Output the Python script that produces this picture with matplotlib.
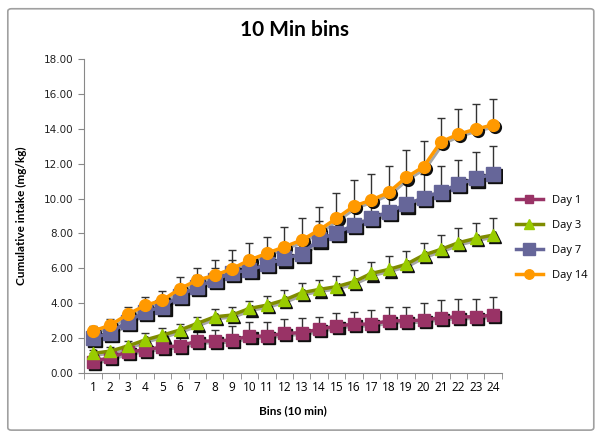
import matplotlib
matplotlib.use("Agg")
import matplotlib.pyplot as plt
import matplotlib.transforms as mtransforms
from matplotlib.patches import FancyBboxPatch

# bins 1..24 (10 min each)
bins = list(range(1, 25))

day1 = [0.63, 0.88, 1.20, 1.30, 1.49, 1.53, 1.82, 1.82, 1.88, 2.10, 2.10, 2.26,
        2.30, 2.49, 2.68, 2.79, 2.79, 2.98, 2.98, 3.02, 3.16, 3.21, 3.21, 3.31]
day1_err = [0.30, 0.35, 0.40, 0.45, 0.50, 0.50, 0.55, 0.65, 0.80, 0.83, 0.83, 0.80,
            0.82, 0.72, 0.73, 0.71, 0.81, 0.81, 0.81, 0.96, 1.01, 1.00, 1.00, 1.05]

day3 = [1.11, 1.24, 1.53, 1.88, 2.16, 2.45, 2.83, 3.21, 3.31, 3.69, 3.88, 4.17,
        4.59, 4.78, 4.94, 5.22, 5.70, 5.93, 6.22, 6.75, 7.08, 7.46, 7.71, 7.90]
day3_err = [0.20, 0.25, 0.30, 0.42, 0.40, 0.33, 0.38, 0.43, 0.48, 0.44, 0.50, 0.60,
            0.54, 0.54, 0.60, 0.67, 0.67, 0.77, 0.78, 0.70, 0.82, 0.86, 0.89, 0.96]

day7 = [1.97, 2.30, 2.93, 3.50, 3.79, 4.42, 4.94, 5.32, 5.74, 5.89, 6.22, 6.56,
        6.81, 7.65, 8.03, 8.47, 8.86, 9.24, 9.66, 10.04, 10.39, 10.81, 11.15, 11.40]
day7_err = [0.35, 0.40, 0.45, 0.50, 0.55, 0.60, 0.65, 0.70, 0.75, 0.80, 0.85, 0.90,
            1.00, 1.05, 1.10, 1.15, 1.20, 1.25, 1.30, 1.35, 1.47, 1.40, 1.53, 1.60]

day14 = [2.39, 2.73, 3.35, 3.86, 4.17, 4.82, 5.32, 5.59, 5.97, 6.47, 6.85, 7.23,
         7.61, 8.19, 8.86, 9.56, 9.91, 10.35, 11.21, 11.82, 13.25, 13.69, 13.98, 14.23]
day14_err = [0.30, 0.37, 0.40, 0.47, 0.53, 0.70, 0.70, 0.90, 1.07, 1.00, 0.95, 1.15,
             1.28, 1.34, 1.43, 1.50, 1.49, 1.50, 1.57, 1.50, 1.38, 1.44, 1.47, 1.51]

series = [
    ("Day 1", day1, day1_err, "s", 8, "#993366", "#993366"),
    ("Day 3", day3, day3_err, "^", 8.5, "#99CC00", "#7F8C00"),
    ("Day 7", day7, day7_err, "s", 10.5, "#666699", "#666699"),
    ("Day 14", day14, day14_err, "o", 8.5, "#FF9900", "#FF9900"),
]

fig = plt.figure(figsize=(6.01, 4.38), dpi=100)
ax = fig.add_axes([0.140, 0.149, 0.695, 0.716])

# chart border
fig.patches.append(FancyBboxPatch((0.013, 0.018), 0.975, 0.962,
                                  boxstyle="round,pad=0,rounding_size=0.006",
                                  transform=fig.transFigure, facecolor="none",
                                  edgecolor="#A0A0A0", linewidth=1.2))

shadow = mtransforms.offset_copy(ax.transData, fig=fig, x=1.5, y=-1.5, units="points")

for name, vals, err, mk, ms, fc, lc in series:
    ax.errorbar(bins, vals, yerr=[[0] * len(err), err], fmt="none",
                ecolor="#333333", elinewidth=1, capsize=3, zorder=2)
    ax.plot(bins, vals, color="black", linewidth=2, alpha=0.35,
            transform=shadow, zorder=3)
    ax.plot(bins, vals, color="black", marker=mk, markersize=ms, linestyle="none",
            alpha=0.9, transform=shadow, zorder=3)
    ax.plot(bins, vals, color=lc, marker=mk, markersize=ms, markerfacecolor=fc,
            markeredgecolor=fc, linewidth=2.5, label=name, zorder=4)

ax.set_xlim(0.5, 24.5)
ax.set_ylim(0, 18)
ax.set_yticks(range(0, 19, 2))
ax.set_yticklabels(["%.2f" % v for v in range(0, 19, 2)], fontsize=7.5,
                   family="DejaVu Sans", color="#222222")
ax.set_xticks(bins)
ax.set_xticklabels([str(b) for b in bins], fontsize=8.5, family="Open Sans")
ax.set_xticks([b + 0.5 for b in range(0, 25)], minor=True)
ax.tick_params(axis="x", which="major", length=0, pad=6)
ax.tick_params(axis="x", which="minor", length=4, color="#888888", direction="out")
ax.tick_params(axis="y", length=4, color="#888888", direction="out")

for s in ["top", "right"]:
    ax.spines[s].set_visible(False)
for s in ["left", "bottom"]:
    ax.spines[s].set_color("#888888")

ax.set_xlabel("Bins (10 min)", fontsize=8.5, fontweight="bold", family="Lato", labelpad=8)
ax.set_ylabel("Cumulative intake (mg/kg)", fontsize=8.5, fontweight="bold", family="Lato",
              labelpad=12)
fig.suptitle("10 Min bins", x=0.49, y=0.955, fontsize=15, fontweight="bold", family="Lato")

leg = ax.legend(loc="center left", bbox_to_anchor=(1.01, 0.43), frameon=False,
                handlelength=2.4, labelspacing=1.25, markerscale=0.8,
                prop={"family": "Open Sans", "size": 8})

fig.savefig("out.png", dpi=100)
